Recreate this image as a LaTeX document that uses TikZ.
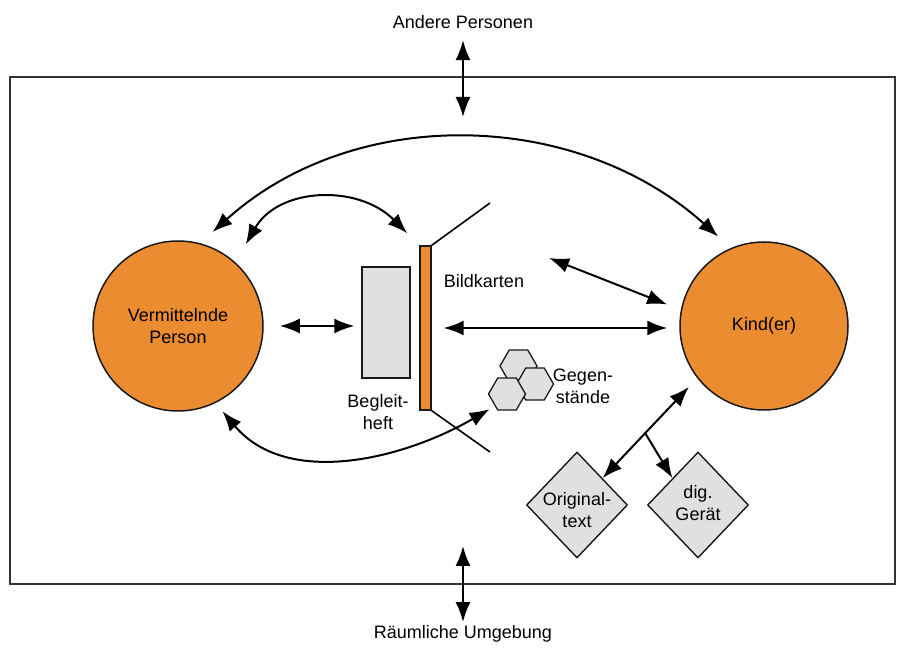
\documentclass[tikz,border=0pt]{standalone}
\usepackage{fontspec}
\setmainfont{Liberation Sans}
\usetikzlibrary{arrows.meta}
\usetikzlibrary{shapes.geometric}
\usetikzlibrary{calc,positioning}
\definecolor{kartenorange}{RGB}{235,140,48}
\definecolor{heftgrau}{RGB}{224,224,224}

\begin{document}
\begin{tikzpicture}[x=1pt, y=1pt, font=\fontsize{18}{22}\selectfont]
  \tikzstyle{person}=[circle, draw=black!90, line width=1.5pt, fill=kartenorange, align=center, inner sep=0pt]
  \tikzstyle{box}=[rectangle, draw=black!90, line width=1.4pt, fill=heftgrau, inner sep=0pt]
  \tikzstyle{hexa}=[regular polygon, regular polygon sides=6, minimum size=37pt, inner sep=0pt, draw=black!90, line width=1.3pt, fill=heftgrau]
  \tikzstyle{medium}=[diamond, minimum width=101pt, minimum height=106pt, inner sep=0pt, draw=black!90, line width=1.4pt, fill=heftgrau]
  \tikzstyle{connect}=[{Latex[length=20pt,width=15pt]}-{Latex[length=20pt,width=15pt]}, line width=2pt]
  \tikzstyle{oneway}=[-{Latex[length=20pt,width=15pt]}, line width=2pt]
  \useasboundingbox (0,0) rectangle (903,648);
    \draw[line width=1.7pt, black!80] (10,64) rectangle (895,571);
    \node (andere) at (463,626) {Andere Personen};
    \node (umgebung) at (463,14) {Räumliche Umgebung};
    \node[person, minimum size=170pt] (vp) at (178,322) {Vermittelnde\\Person};
    \node[person, minimum size=168pt] (kind) at (764,322) {Kind(er)};
    \node[box, minimum width=48pt, minimum height=111pt] (heft) at (386,325.5) {};
    \node[box, fill=kartenorange, minimum width=11pt, minimum height=164pt] (karten) at (425.5,320) {};
    \node[align=center] (heftlabel) at (378,236) {Begleit-\\heft};
    \node (kartenlabel) at (484,367) {Bildkarten};
    \node[hexa] (gegenstand1) at (518.5,282) {};
    \node[hexa] (gegenstand2) at (535,264) {};
    \node[hexa] (gegenstand3) at (507,254) {};
    \node[align=center] (gegenlabel) at (583,262) {Gegen-\\stände};
    \node[medium, label={[align=center, yshift=-5pt]center:Original-\\text}] (orig) at (577,143) {};
    \node[medium, label={[align=center, yshift=2pt]center:dig.\\Gerät}] (geraet) at (698,143) {};
    % Bildkarten aufgeklappt
    \coordinate (kartenoben) at (490,445);
    \coordinate (kartenunten) at (490,196);
    \draw[line width=1.6pt] (karten.north east) -- (kartenoben);
    \draw[line width=1.6pt] (karten.south east) -- (kartenunten);
    % Verbindungen
    \coordinate (andereunten) at (463,531);
    \coordinate (umgebungoben) at (463,102);
    \coordinate (kartenrechts) at (549,390);
    \draw[connect, shorten <=8pt] (andere.south) -- (andereunten);
    \draw[connect] (umgebung.north) -- (umgebungoben);
    \draw[connect, shorten <=16pt, shorten >=7pt] (vp.east) -- (vp.east -| heft.west);
    \draw[connect, shorten <=12pt, shorten >=12pt] (karten.east) -- (karten.east -| kind.west);
    \draw[connect, shorten >=14.6pt] (kartenrechts) -- (kind.169.5);
    \draw[connect, shorten <=16.6pt, shorten >=17pt] (vp.75) to[out=42, in=138] (kind.113);
    \draw[connect, shorten <=20.6pt, shorten >=17pt] (vp.48.5) to[out=60, in=135, looseness=1.2] (karten.north west);
    \draw[connect, shorten <=10.7pt, shorten >=6pt] (vp.-64) to[out=-50, in=-150] (gegenstand3.south west);
    \draw[connect, shorten <=12pt] (kind.-142) -- coordinate[pos=0.55] (abzweig) (orig.north east);
    \draw[oneway] (abzweig) -- (geraet.north west);
  \end{tikzpicture}
\end{document}
